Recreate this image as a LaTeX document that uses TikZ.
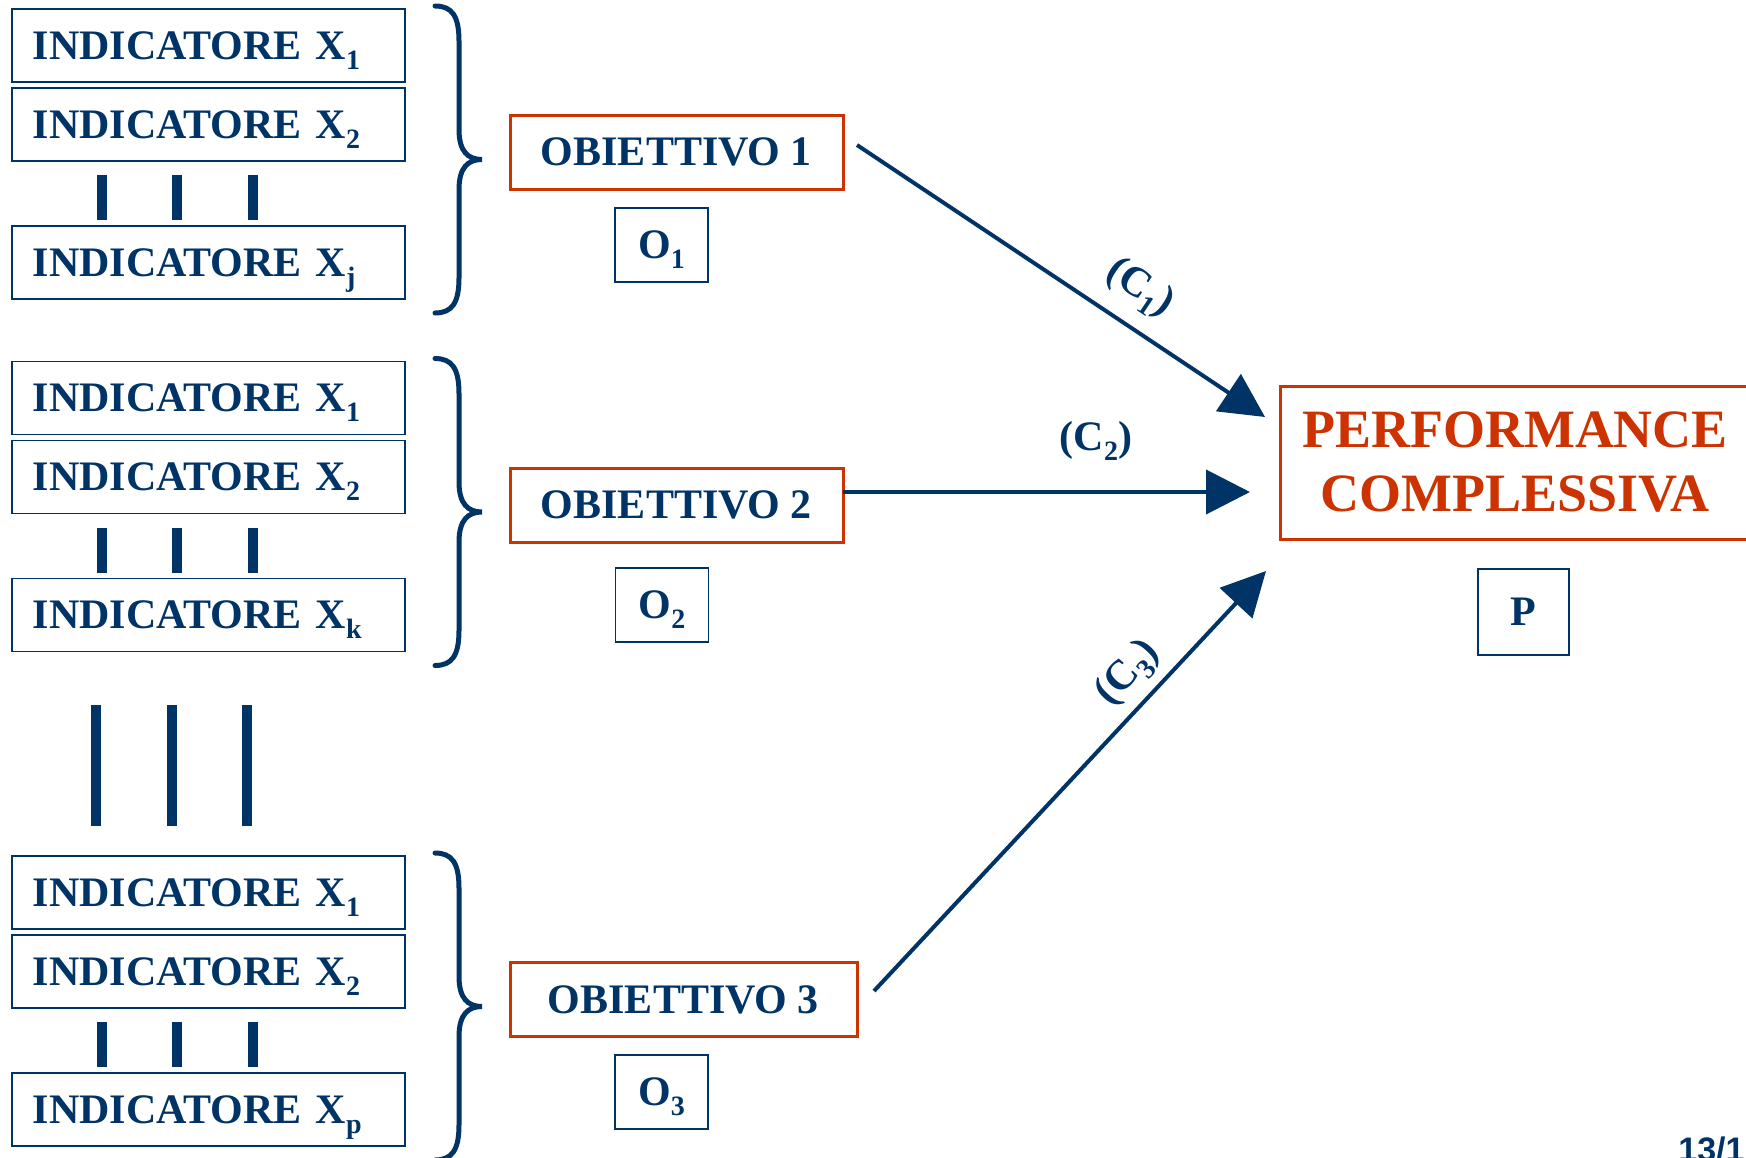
\documentclass[tikz,border=0pt]{standalone}
\usepackage{fontspec}
\setmainfont{Liberation Serif}
\setsansfont{Liberation Sans}
\usetikzlibrary{arrows.meta}
\definecolor{navy}{RGB}{0,51,102}
\definecolor{rust}{RGB}{204,51,0}
\newcommand{\sbx}[1]{\raisebox{-5pt}[0pt][0pt]{\fontsize{14}{14}\selectfont #1}}
\tikzset{
  ind/.style={draw=navy, line width=0.75pt, minimum width=196.5pt, minimum height=36.5pt,
    text width=175.5pt, inner xsep=10.5pt, inner ysep=0pt, align=left, anchor=west},
  obj/.style={draw=rust, line width=1.5pt, minimum height=37pt, inner sep=0pt},
  lbl/.style={draw=navy, line width=0.75pt, minimum width=46.5pt, minimum height=37pt, inner sep=0pt},
  bar/.style={navy, line width=5pt},
  brc/.style={navy, line width=2.5pt, line cap=round},
  arr/.style={navy, line width=2pt, -{Triangle[length=22pt, width=22pt]}},
}
\begin{document}
\begin{tikzpicture}[x=0.5pt, y=-0.5pt, font=\fontsize{21}{24}\selectfont\bfseries, text=navy]
\useasboundingbox (0,0) rectangle (1746,1157);
% indicator groups
\foreach \g/\y/\s in {1/45.5/j, 2/398/k, 3/892.5/p}{
  \node[ind] (i\g a) at (11,\y) {INDICATORE X\sbx{1}};
  \node[ind] (i\g b) at (11,{\y+79}) {INDICATORE X\sbx{2}};
  \node[ind] (i\g c) at (11,{\y+217}) {INDICATORE X\sbx{\s}};
  \foreach \bx in {102,177,253}
    \draw[bar] (\bx,{\y+129.5}) -- (\bx,{\y+174.5});
  \pgfmathsetmacro{\ya}{\y-39.5}
  \pgfmathsetmacro{\yb}{\y+267.5}
  \pgfmathsetmacro{\ym}{\y+114}
  \draw[brc] (435,\ya) .. controls (452,\ya) and (459,\ya+10) .. (459,\ya+35)
    -- (459,\ym-30) .. controls (459,\ym-8) and (468,\ym) .. (482,\ym)
    .. controls (468,\ym) and (459,\ym+8) .. (459,\ym+30)
    -- (459,\yb-35) .. controls (459,\yb-10) and (452,\yb) .. (435,\yb);
}
% big vertical bars
\foreach \bx in {96,172,247}
  \draw[bar] (\bx,705) -- (\bx,826);
% objectives
\node[obj, minimum width=166.5pt] (o1) at (676.5,152) {OBIETTIVO 1};
\node[obj, minimum width=166.5pt] (o2) at (676.5,505) {OBIETTIVO 2};
\node[obj, minimum width=173.5pt] (o3) at (683.5,999.5) {OBIETTIVO 3};
\node[lbl] (q1) at (661.5,245) {O\sbx{1}};
\node[lbl] (q2) at (662,605) {O\sbx{2}};
\node[lbl] (q3) at (661.5,1092) {O\sbx{3}};
% performance
\node[obj, minimum width=235pt, minimum height=76.5pt, text=rust,
  font=\fontsize{27}{32}\selectfont\bfseries, align=center] (perf) at (1515,462.5) {PERFORMANCE\\COMPLESSIVA};
\node[lbl, minimum width=45.5pt, minimum height=43pt] (pp) at (1523.5,612) {P};
% arrows
\coordinate (s1) at (857,145);  \coordinate (t1) at (1265,417);
\coordinate (s2) at (843,492);  \coordinate (t2) at (1250,492);
\coordinate (s3) at (874,991);  \coordinate (t3) at (1266,571);
\draw[arr] (s1) -- (t1);
\draw[arr] (s2) -- (t2);
\draw[arr] (s3) -- (t3);
\node[rotate=-33.7] (c1) at (1140,288) {(C\sbx{1})};
\node (c2) at (1096,440) {(C\sbx{2})};
\node[rotate=47] (c3) at (1128,673) {(C\sbx{3})};
% page number
\node[anchor=north west, inner sep=0pt, font=\sffamily\bfseries\fontsize{17}{17}\selectfont] (pg) at (1678,1136) {13/1};
\end{tikzpicture}
\end{document}
